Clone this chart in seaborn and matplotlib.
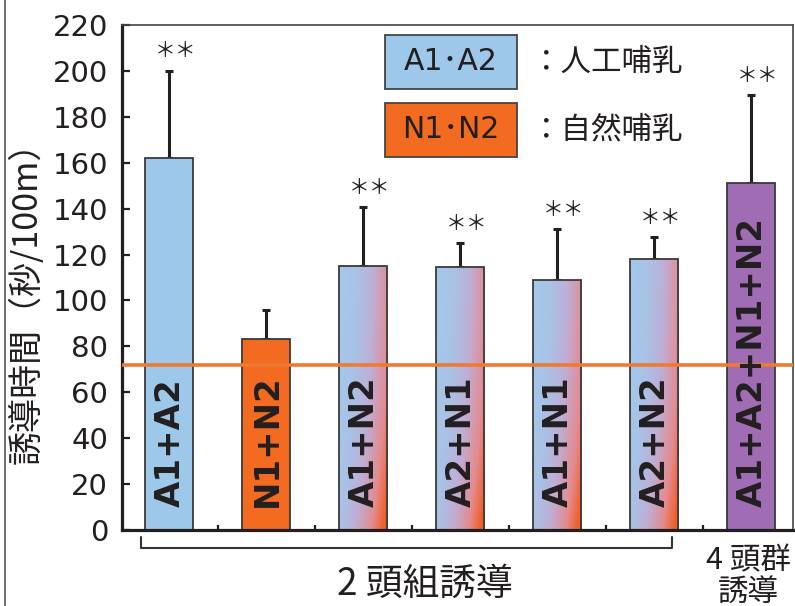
import numpy as np
import pandas as pd
import matplotlib
matplotlib.use("Agg")
import matplotlib.pyplot as plt
import seaborn as sns
from matplotlib.colors import LinearSegmentedColormap
from matplotlib.patches import Rectangle
from matplotlib.lines import Line2D

# ---- data -------------------------------------------------------------
groups = ["A1+A2", "N1+N2", "A1+N2", "A2+N1", "A1+N1", "A2+N2", "A1+A2+N1+N2"]
means = [162, 83, 115, 114.5, 109, 118, 151]
upper_err = [38, 13, 25.5, 10.5, 22, 9.5, 38.5]
significant = [True, False, True, True, True, True, True]
reference_time = 72
y_ticks = [0, 20, 40, 60, 80, 100, 120, 140, 160, 180, 200, 220]
legend_keys = ["A1･A2", "N1･N2"]
legend_desc = ["：人工哺乳", "：自然哺乳"]
pair_label = "2 頭組誘導"
group_label = ["4 頭群", "誘導"]
y_label = "誘導時間（秒/100m）"

# ---- style ------------------------------------------------------------
BLUE = "#9DC8EA"
ORANGE = "#F26B21"
PURPLE = "#A06CB4"
INK = "#231F20"
bar_colors = {"A1+A2": BLUE, "N1+N2": ORANGE, "A1+N2": "#C8A8D0",
              "A2+N1": "#C8A8D0", "A1+N1": "#C8A8D0", "A2+N2": "#C8A8D0",
              "A1+A2+N1+N2": PURPLE}
mixed = {"A1+N2", "A2+N1", "A1+N1", "A2+N2"}
JP = "Noto Sans CJK JP"

sns.set_style("white")
plt.rcParams["font.family"] = ["DejaVu Sans", JP]

W, H = 795, 606
fig = plt.figure(figsize=(W / 100, H / 100), dpi=100)
ax = fig.add_axes([122 / W, 1 - 530 / H, (793 - 122) / W, (530 - 25) / H])

df = pd.DataFrame({"group": groups, "mean": means})
sns.barplot(data=df, x="group", y="mean", hue="group", palette=bar_colors,
            order=groups, hue_order=groups, width=0.495, saturation=1,
            edgecolor="#3a3a3a", linewidth=1.3, legend=False, errorbar=None,
            ax=ax)

bars = sorted(ax.patches, key=lambda p: p.get_x())

# blue-to-red diagonal blend for the mixed pairs
mix_cmap = LinearSegmentedColormap.from_list(
    "mix", [(0.0, "#A3C9EB"), (0.3, "#A9C1E5"), (0.55, "#BFAED6"),
            (0.82, "#E48A8E"), (1.0, "#F0602A")])
u = np.linspace(0, 1, 120)[None, :]
v = np.linspace(0, 1, 200)[:, None]
t = np.clip(0.78 * u + 0.3 * (1 - v) ** 2, 0, 1)
grad = mix_cmap(t)

for bar, name in zip(bars, groups):
    if name in mixed:
        x0, w, h = bar.get_x(), bar.get_width(), bar.get_height()
        im = ax.imshow(grad, extent=(x0, x0 + w, 0, h), origin="lower",
                       aspect="auto", interpolation="bilinear", zorder=0.9)
        im.set_clip_path(bar)
        bar.set_facecolor("none")
    bar.set_zorder(1)

xs = [b.get_x() + b.get_width() / 2 for b in bars]
ax.errorbar(xs, means, yerr=[np.zeros(len(means)), upper_err], fmt="none",
            ecolor=INK, elinewidth=2.2, capsize=3, capthick=2.2, zorder=0.8)

for x, m, e, s in zip(xs, means, upper_err, significant):
    if s:
        ax.annotate("＊＊", (x, m + e), xytext=(5, 14), textcoords="offset points",
                    ha="center", va="center", fontsize=15, family=JP, color=INK)

ax.axhline(reference_time, color="#EE7B30", lw=2.6, zorder=3)

for x, name in zip(xs, groups):
    ax.text(x + 0.015, 10, name, rotation=90, ha="center", va="bottom",
            fontsize=24.5, fontweight="bold", color=INK, zorder=4)

# axes
ax.set_xlim(-0.485, 6.433)
ax.set_ylim(0, 220)
ax.set_yticks(y_ticks)
ax.set_xticks([0.5, 1.5, 2.5, 3.5, 4.5, 5.5])
ax.set_xticklabels([])
ax.set_xlabel("")
ax.set_ylabel("")
ax.tick_params(axis="y", direction="in", length=6, width=1.6, color=INK,
               labelsize=21, labelcolor=INK, pad=10, left=True)
ax.tick_params(axis="x", direction="in", length=3.5, width=1.6, color=INK,
               bottom=True)
for side in ["left", "bottom"]:
    ax.spines[side].set_linewidth(2.3)
    ax.spines[side].set_color(INK)
for side in ["top", "right"]:
    ax.spines[side].set_linewidth(1.2)
    ax.spines[side].set_color("#444444")

# legend boxes
for key, desc, color, yc in zip(legend_keys, legend_desc, [BLUE, ORANGE],
                                [62, 130]):
    ax.add_patch(Rectangle(((385 - 122) / 671, (530 - yc - 27) / 505),
                           132 / 671, 54 / 505, transform=ax.transAxes,
                           facecolor=color, edgecolor="#444444", lw=1.3,
                           zorder=5))
    ax.text((451 - 122) / 671, (530 - yc) / 505, key, transform=ax.transAxes,
            ha="center", va="center", fontsize=21.5, color=INK, zorder=6)
    ax.text((530 - 122) / 671, (530 - yc) / 505, desc, transform=ax.transAxes,
            ha="left", va="center", fontsize=22, family=JP, color=INK,
            zorder=6)

# bracket under the pair trials
trans = ax.get_xaxis_transform()
bx0, bx1 = (141 - 169) / 97, (672 - 169) / 97
by0, by1 = (530 - 537) / 505, (530 - 548) / 505
ax.plot([bx0, bx0, bx1, bx1], [by0, by1, by1, by0], transform=trans,
        color="#333333", lw=1.5, clip_on=False)

fig.text(425 / W, 1 - 584 / H, pair_label, ha="center", va="center",
         fontsize=26.5, family=JP, color=INK)
fig.text(748 / W, 1 - 561 / H, group_label[0], ha="center", va="center",
         fontsize=22, family=JP, color=INK)
fig.text(748 / W, 1 - 592 / H, group_label[1], ha="center", va="center",
         fontsize=22, family=JP, color=INK)
fig.text(27 / W, 1 - 294 / H, y_label, rotation=90, ha="center", va="center",
         fontsize=24.5, family=JP, color=INK)

# outer frame edge on the left
fig.add_artist(Line2D([4.5 / W, 4.5 / W], [0, 1], transform=fig.transFigure,
                      color="#555555", lw=1.2))

fig.savefig("out.png", dpi=100)
